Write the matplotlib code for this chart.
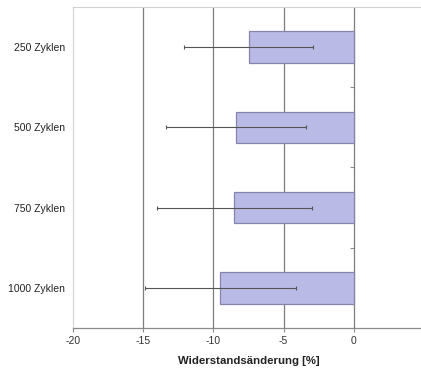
import numpy as np
import matplotlib.pyplot as plt

plt.rcParams['font.family'] = ['Liberation Sans', 'DejaVu Sans']

# Widerstandsänderung nach Zyklenzahl (Mittelwert und Streuung in %)
zyklen = ['250 Zyklen', '500 Zyklen', '750 Zyklen', '1000 Zyklen']
aenderung = [-7.5, -8.4, -8.5, -9.5]
streuung = [4.6, 5.0, 5.5, 5.4]
xticks = [-20, -15, -10, -5, 0]

fig = plt.figure(figsize=(4.21, 3.71), dpi=100)
ax = fig.add_axes([73 / 421, 43 / 371, 351 / 421, 321 / 371])

pos = np.arange(len(zyklen))
ax.barh(pos, aenderung, height=0.39, color='#babae6', edgecolor='#8585ab',
        linewidth=0.9, zorder=2)
ax.errorbar(aenderung, pos, xerr=streuung, fmt='none', ecolor='#555555',
            elinewidth=0.8, capsize=1.5, capthick=0.8, zorder=3)

ax.set_xlim(-20, 5)
ax.set_ylim(len(zyklen) - 0.5, -0.5)

# vertikale Hilfslinien
for x in xticks[1:]:
    ax.axvline(x, color='#7d7d7d', linewidth=0.9, zorder=1)

ax.set_xticks(xticks)
ax.set_xticklabels([str(t) for t in xticks])
ax.set_yticks(pos)
ax.set_yticklabels(zyklen)
ax.tick_params(axis='y', length=0, pad=6, labelsize=7.5, labelcolor='#222222')
ax.tick_params(axis='x', length=3, width=0.8, color='#8a8a8a', pad=3,
               labelsize=7.5, labelcolor='#333333')

for side in ['top', 'left', 'right']:
    ax.spines[side].set_color('#d2d2d2')
    ax.spines[side].set_linewidth(0.8)
ax.spines['bottom'].set_color('#8a8a8a')
ax.spines['bottom'].set_linewidth(0.9)

# Achse bei 0 mit Teilstrichen zwischen den Kategorien
sec = ax.secondary_yaxis(0.8)
sec.set_yticks(pos[:-1] + 0.5)
sec.set_yticklabels([])
sec.yaxis.set_ticks_position('left')
sec.tick_params(length=3, width=0.8, color='#8a8a8a', direction='out')
sec.spines['left'].set_visible(False)
sec.spines['right'].set_visible(False)

ax.set_xlabel('Widerstandsänderung [%]', fontsize=8.2, fontweight='bold',
              color='#222222', labelpad=7)

fig.savefig('out.png', dpi=100)
